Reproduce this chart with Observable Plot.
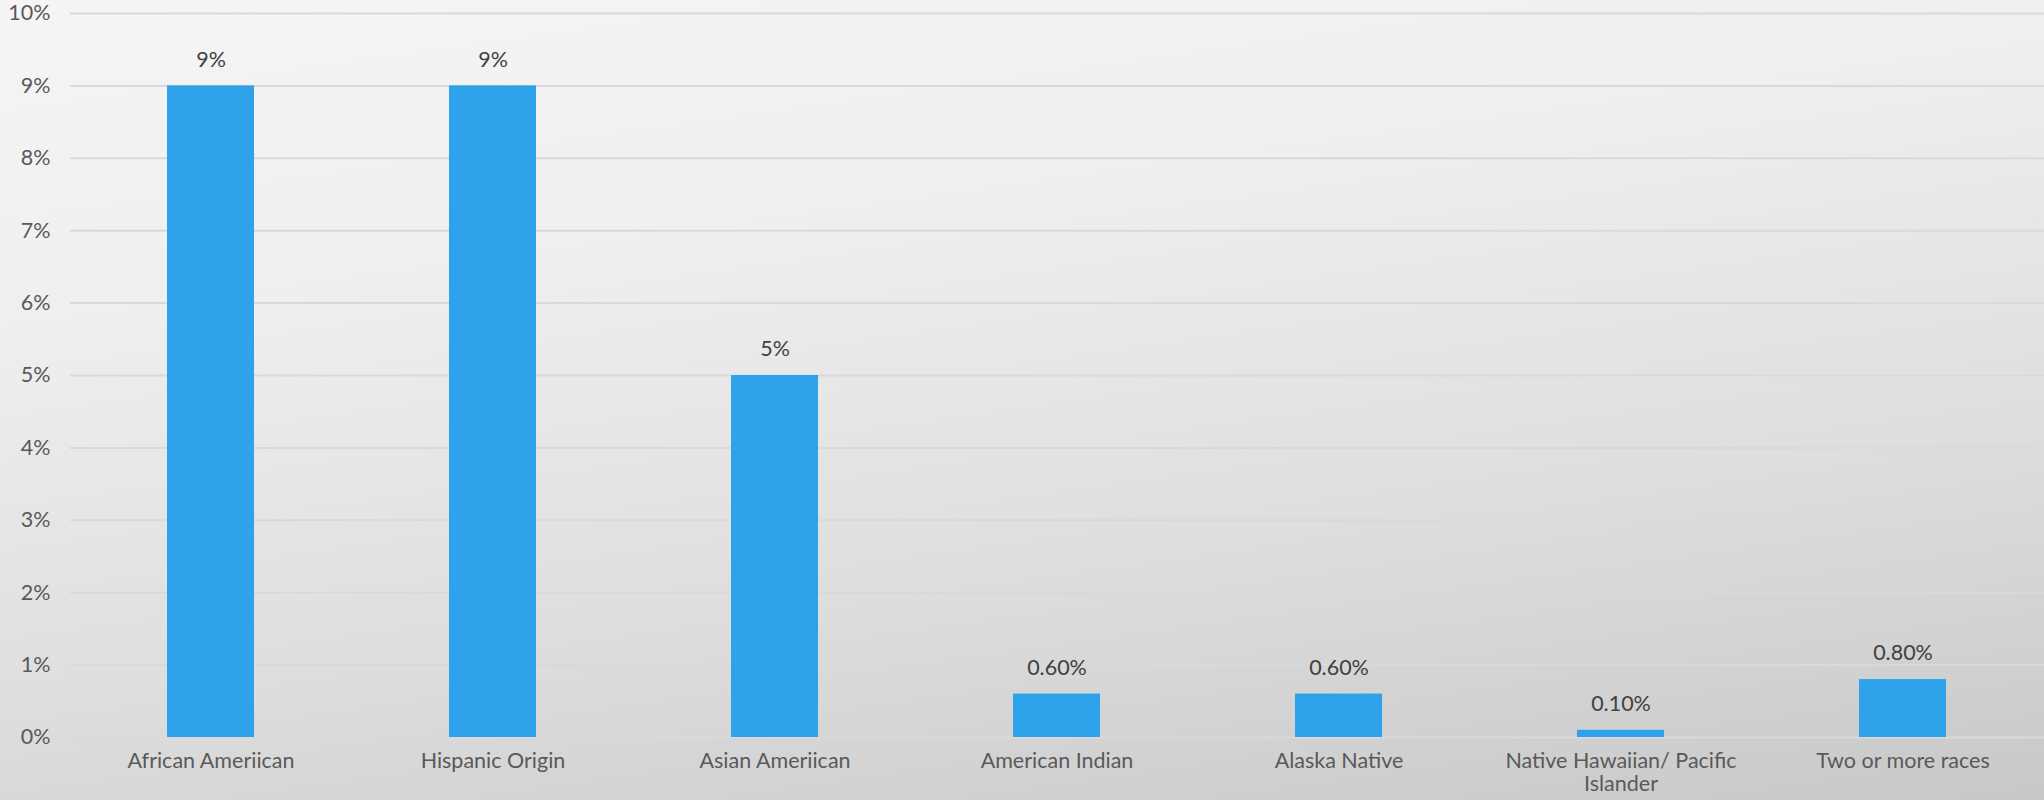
<!DOCTYPE html>
<html>
<head>
<meta charset="utf-8">
<script src="https://cdn.jsdelivr.net/npm/d3@7"></script>
<script src="https://cdn.jsdelivr.net/npm/@observablehq/plot@0.6"></script>
<style>
  html, body { margin: 0; padding: 0; }
  body {
    width: 2044px; height: 800px; overflow: hidden;
    background: linear-gradient(172deg, #f5f5f5 0%, #efefef 30%, #dedede 65%, #c8c8c8 100%);
    font-family: Lato, "Open Sans", sans-serif;
  }
  svg { display: block; background: transparent !important; }
</style>
</head>
<body>
<div id="chart"></div>
<script>
const categories = ["African Ameriican", "Hispanic Origin", "Asian Ameriican", "American Indian", "Alaska Native", "Native Hawaiian/ Pacific Islander", "Two or more races"];
const values = [9, 9, 5, 0.6, 0.6, 0.1, 0.8];
const valueLabels = ["9%", "9%", "5%", "0.60%", "0.60%", "0.10%", "0.80%"];
const yTicks = [0, 1, 2, 3, 4, 5, 6, 7, 8, 9, 10];
const tickLabelLines = {"Native Hawaiian/ Pacific Islander": "Native Hawaiian/ Pacific\nIslander"};

const data = categories.map((c, i) => ({category: c, value: values[i], label: valueLabels[i]}));

const chart = Plot.plot({
  width: 2044,
  height: 800,
  marginLeft: 70,
  marginRight: 0,
  marginTop: 13,
  marginBottom: 63,
  style: {fontFamily: "Lato, 'Open Sans', sans-serif", fontSize: "21px", color: "#595959", background: "transparent"},
  x: {domain: categories, paddingInner: 0.69, paddingOuter: 0.345, label: null},
  y: {domain: [0, 10], label: null},
  marks: [
    Plot.gridY(yTicks, {stroke: "#d9d9d9", strokeOpacity: 1, strokeWidth: 2}),
    Plot.barY(data, {x: "category", y: "value", fill: "#2EA3EC"}),
    Plot.text(data, {x: "category", y: "value", text: "label", dy: -26, fill: "#404040", fontSize: 21.5}),
    Plot.axisY(yTicks, {tickSize: 0, tickPadding: 20, tickFormat: d => d + "%", fontSize: 21.5, fill: "#595959", label: null}),
    Plot.axisX({tickSize: 0, tickPadding: 14, tickFormat: d => tickLabelLines[d] || d, fontSize: 21.5, fill: "#595959", lineHeight: 1.08, label: null})
  ]
});
document.getElementById("chart").appendChild(chart);
</script>
</body>
</html>
